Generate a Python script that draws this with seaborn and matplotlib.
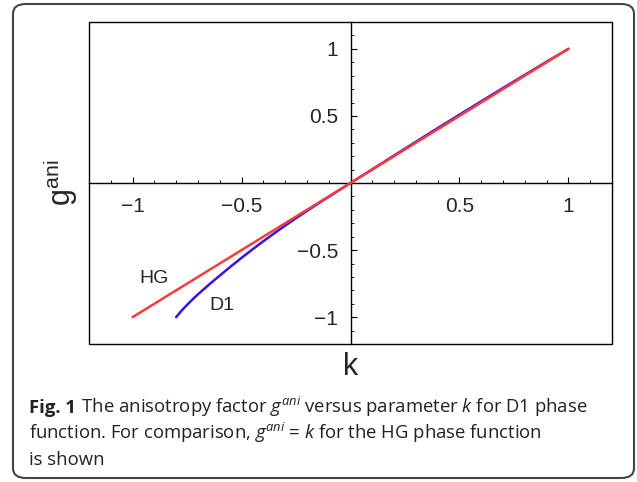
import numpy as np
import pandas as pd
import matplotlib
matplotlib.use("Agg")
import matplotlib.pyplot as plt
from matplotlib.ticker import MultipleLocator, FuncFormatter
from matplotlib.patches import FancyBboxPatch, Rectangle
from matplotlib.transforms import offset_copy
import seaborn as sns

# ---- data ----
k_hg = [-1.0, 1.0]
g_hg = [-1.0, 1.0]

k_d1 = [-0.8, -0.78, -0.76, -0.74, -0.72, -0.7, -0.65, -0.6, -0.55, -0.5,
        -0.45, -0.4, -0.35, -0.3, -0.25, -0.2, -0.15, -0.1, -0.05, 0.0,
        0.1, 0.2, 0.3, 0.4, 0.5, 0.6, 0.7, 0.8, 0.9, 1.0]
g_d1 = [-1.0, -0.96, -0.925, -0.892, -0.86, -0.83, -0.758, -0.69, -0.623, -0.558,
        -0.495, -0.434, -0.375, -0.318, -0.262, -0.208, -0.155, -0.103, -0.051, 0.0,
        0.102, 0.205, 0.307, 0.409, 0.509, 0.609, 0.708, 0.806, 0.904, 1.0]

curve_labels = ["HG", "D1"]
caption_bold = "Fig. 1"
caption_lines = [
    r" The anisotropy factor $g^{ani}$ versus parameter $k$ for D1 phase",
    r"function. For comparison, $g^{ani}$ = $k$ for the HG phase function",
    r"is shown",
]

sns.set_style("white")
plt.rcParams['font.family'] = ['Liberation Sans', 'DejaVu Sans']
plt.rcParams['axes.unicode_minus'] = True

fig = plt.figure(figsize=(6.37, 4.82), dpi=100)
ax = fig.add_axes([89/637, 1-344/482, (612-89)/637, (344-22)/482])

df_d1 = pd.DataFrame({"k": k_d1, "g": g_d1})
df_hg = pd.DataFrame({"k": k_hg, "g": g_hg})
sns.lineplot(data=df_d1, x="k", y="g", ax=ax, color="#3a12e8", lw=1.8, zorder=3)
sns.lineplot(data=df_hg, x="k", y="g", ax=ax, color="#ff3a3a", lw=1.8, zorder=4)

ax.set_xlim(-1.2, 1.2)
ax.set_ylim(-1.2, 1.2)

for s in ["top", "right"]:
    ax.spines[s].set_visible(False)
ax.spines["left"].set_position(("data", 0))
ax.spines["bottom"].set_position(("data", 0))
for s in ["left", "bottom"]:
    ax.spines[s].set_linewidth(1.0)
    ax.spines[s].set_color("black")
ax.add_patch(Rectangle((0, 0), 1, 1, transform=ax.transAxes, fill=False,
                       lw=1.0, edgecolor="black", clip_on=False, zorder=5))

def fmt(v, pos):
    if abs(v) < 1e-9:
        return ""
    s = f"{v:g}"
    return s.replace("-", "\u2212")

for axis in (ax.xaxis, ax.yaxis):
    axis.set_major_locator(MultipleLocator(0.5))
    axis.set_minor_locator(MultipleLocator(0.1))
    axis.set_major_formatter(FuncFormatter(fmt))
ax.tick_params(which="both", bottom=True, left=True, top=False, right=False)
ax.tick_params(which="major", direction="in", length=4.5, width=0.8, labelsize=15, color="black")
ax.tick_params(which="minor", direction="in", length=2.5, width=0.6, color="black")
ax.tick_params(axis="x", pad=10)
ax.tick_params(axis="y", pad=9)
ax.set_xlabel("")
ax.set_ylabel("")

ax.text(0.5, -0.07, "k", transform=ax.transAxes, ha="center", va="center", fontsize=22)
ax.text(-0.055, 0.5, r"g$^{\mathregular{ani}}$", transform=ax.transAxes, ha="center",
        va="center", rotation=90, fontsize=22)

ax.text(-0.90, -0.71, curve_labels[0], ha="center", va="center", fontsize=14)
ax.text(-0.59, -0.91, curve_labels[1], ha="center", va="center", fontsize=14)

# outer rounded frame
fig.patches.append(FancyBboxPatch((13/637, 4/482), (634-13)/637, (478-4)/482,
                                  boxstyle="round,pad=0,rounding_size=0.02",
                                  transform=fig.transFigure, fill=False,
                                  edgecolor="#444444", lw=1.5))

plt.rcParams['mathtext.fontset'] = 'custom'
plt.rcParams['mathtext.rm'] = 'Open Sans'
plt.rcParams['mathtext.it'] = 'Open Sans:italic'
plt.rcParams['mathtext.bf'] = 'Open Sans:bold'
ys = [413, 439, 465]
x0 = 29/637
bold = fig.text(x0, 1 - ys[0]/482, caption_bold, ha="left", va="baseline", fontsize=13.3,
                family="Open Sans", weight="bold", color="#222222")
renderer = fig.canvas.get_renderer()
bb = bold.get_window_extent(renderer)
fig.text(bb.x1 / fig.bbox.width + 1/637, 1 - ys[0]/482, caption_lines[0], ha="left",
         va="baseline", fontsize=13.3, family="Open Sans", color="#222222")
for line, y in zip(caption_lines[1:], ys[1:]):
    fig.text(x0, 1 - y/482, line, ha="left", va="baseline", fontsize=13.3,
             family="Open Sans", color="#222222")

fig.savefig("out.png", dpi=100)
